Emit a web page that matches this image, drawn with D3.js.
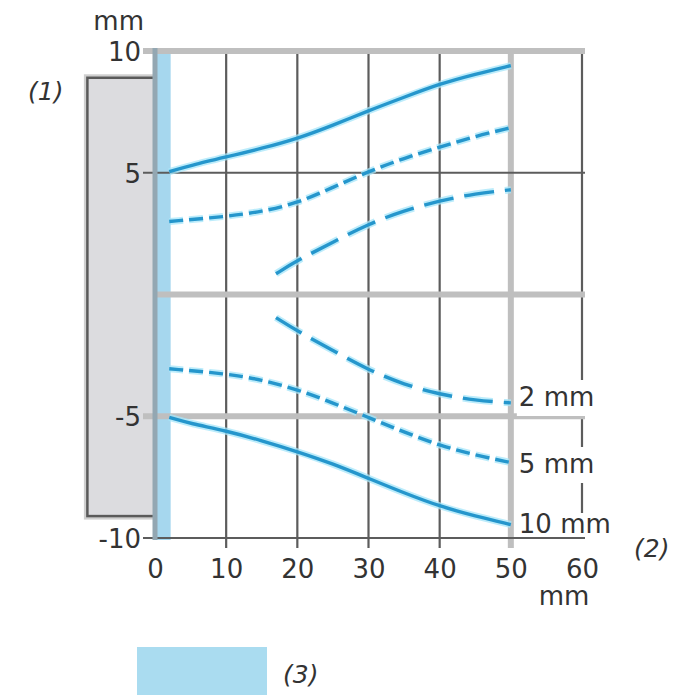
<!DOCTYPE html>
<html>
  <head>
    <meta charset="utf-8">
    <title>Detection zones</title>
    <script src="https://d3js.org/d3.v7.min.js"></script>
    <style>
    body { margin: 0; background: #fff; }
    text { font-family: "DejaVu Sans", sans-serif; fill: #333; }
    .grid-dark { stroke: #5c5c5c; stroke-width: 2.2px; }
    .grid-light { stroke: #bfbfbf; stroke-width: 6px; }
    .halo { fill: none; stroke: #a6e6fa; stroke-width: 7px; opacity: 0.75; }
    .core { fill: none; stroke: #2596cc; stroke-width: 3.4px; }
    </style>
  </head>
  <body>
    <script>
      // ====================================
      // data (mm)
      // ====================================
      const xTicks = [0, 10, 20, 30, 40, 50, 60];
      const yTicks = [10, 5, -5, -10];
      const xHeavy = [0, 50];          // light grey wide lines
      const yHeavy = [10, 0, -5];

      const labels = ["2 mm", "5 mm", "10 mm"];

      // curve for 10 mm target
      const x10 = [2, 5, 10, 15, 20, 25, 30, 35, 40, 45, 50];
      const up10 = [5.05, 5.3, 5.65, 6.0, 6.4, 6.95, 7.55, 8.1, 8.65, 9.05, 9.4];
      const lo10 = [-5.05, -5.3, -5.6, -6.0, -6.45, -6.95, -7.55, -8.15, -8.7, -9.1, -9.45];

      // curve for 5 mm target
      const x5 = [2, 10, 15, 20, 25, 30, 35, 40, 45, 50];
      const up5 = [3.0, 3.2, 3.4, 3.75, 4.4, 5.05, 5.6, 6.05, 6.5, 6.85];
      const lo5 = [-3.05, -3.25, -3.5, -3.9, -4.45, -5.05, -5.65, -6.2, -6.6, -6.9];

      // curve for 2 mm target
      const x2 = [17, 20, 25, 30, 35, 40, 45, 50];
      const up2 = [0.85, 1.4, 2.15, 2.9, 3.45, 3.85, 4.15, 4.3];
      const lo2 = [-0.95, -1.5, -2.3, -3.1, -3.7, -4.1, -4.35, -4.45];

      // grey object (1) and blue zone (3)
      const objectBox = [-9.5, 0, -9.1, 8.9];   // x0, x1, y0, y1
      const zone = [0, 2.2];

      const svg = d3.select("body")
        .append("svg")
          .attr("width", 700)
          .attr("height", 700);

      const x = d3.scaleLinear().domain([0, 60]).range([155, 582]);
      const y = d3.scaleLinear().domain([-10, 10]).range([538, 51]);

      // grey object
      svg.append("rect")
          .attr("x", x(objectBox[0]) - 2)
          .attr("y", y(objectBox[3]) - 2)
          .attr("width", x(objectBox[1]) - x(objectBox[0]) + 2)
          .attr("height", y(objectBox[2]) - y(objectBox[3]) + 4)
          .attr("fill", "none")
          .attr("stroke", "#cfcfcf")
          .attr("stroke-width", 3);
      svg.append("rect")
          .attr("x", x(objectBox[0]))
          .attr("y", y(objectBox[3]))
          .attr("width", x(objectBox[1]) - x(objectBox[0]))
          .attr("height", y(objectBox[2]) - y(objectBox[3]))
          .attr("fill", "#dcdcdf")
          .attr("stroke", "#5a5a5a")
          .attr("stroke-width", 2.5);

      // blue zone
      svg.append("rect")
          .attr("x", x(zone[0]))
          .attr("y", y(10))
          .attr("width", x(zone[1]) - x(zone[0]))
          .attr("height", y(-10) - y(10) + 2)
          .attr("fill", "#a6d7ee");

      // vertical grid lines
      xTicks.forEach(function(v) {
        if (v === 0) return;
        svg.append("line")
          .attr("class", xHeavy.indexOf(v) >= 0 ? "grid-light" : "grid-dark")
          .attr("x1", x(v)).attr("x2", x(v))
          .attr("y1", y(10) - 3)
          .attr("y2", v === 60 ? y(-10) : y(-10) + 10);
      });

      // horizontal grid lines
      const hLines = yTicks.concat([0]);
      hLines.forEach(function(v) {
        svg.append("line")
          .attr("class", yHeavy.indexOf(v) >= 0 ? "grid-light" : "grid-dark")
          .attr("x1", v === 0 ? x(0) : x(0) - 12)
          .attr("x2", x(60) + 3)
          .attr("y1", y(v)).attr("y2", y(v));
      });

      // axis x = 0 over the zone
      svg.append("line")
          .attr("x1", x(0)).attr("x2", x(0))
          .attr("y1", y(10) - 3).attr("y2", y(-10) + 2)
          .attr("stroke", "#93a7b2")
          .attr("stroke-width", 5);

      // tick labels through d3 axes (no lines)
      const fmt = function(d) { return String(d); };   // plain hyphen minus

      const xAxis = d3.axisBottom(x)
          .tickValues(xTicks)
          .tickFormat(fmt)
          .tickSize(0)
          .tickPadding(0);
      const gx = svg.append("g")
          .attr("transform", "translate(0," + 578 + ")")
          .call(xAxis);
      gx.select(".domain").remove();
      gx.selectAll("text")
          .attr("dy", 0)
          .attr("y", 0)
          .attr("font-size", 26)
          .attr("font-family", null)
          .attr("fill", "#333");

      const yAxis = d3.axisLeft(y)
          .tickValues(yTicks)
          .tickFormat(fmt)
          .tickSize(0)
          .tickPadding(14);
      const gy = svg.append("g")
          .attr("transform", "translate(" + x(0) + ",0)")
          .call(yAxis);
      gy.select(".domain").remove();
      gy.selectAll("text")
          .attr("dy", "0.36em")
          .attr("font-size", 26)
          .attr("font-family", null)
          .attr("fill", "#333");

      // curves
      const line = d3.line()
          .x(function(d) { return x(d[0]); })
          .y(function(d) { return y(d[1]); })
          .curve(d3.curveBasis);

      const curves = [
        { xs: x2, ys: up2, dash: "30,11" },
        { xs: x2, ys: lo2, dash: "30,11" },
        { xs: x5, ys: up5, dash: "14,6" },
        { xs: x5, ys: lo5, dash: "14,6" },
        { xs: x10, ys: up10, dash: null },
        { xs: x10, ys: lo10, dash: null }
      ];

      curves.forEach(function(c) {
        const pts = c.xs.map(function(v, i) { return [v, c.ys[i]]; });
        ["halo", "core"].forEach(function(cls) {
          svg.append("path")
            .datum(pts)
            .attr("class", cls)
            .attr("stroke-dasharray", c.dash)
            .attr("d", line);
        });
      });

      // end labels on the lower curves, white behind so the 60 line breaks
      const labelBase = [406, 473, 533];
      labels.forEach(function(t, i) {
        const g = svg.append("g");
        const txt = g.append("text")
          .attr("x", x(50) + 8)
          .attr("y", labelBase[i])
          .attr("font-size", 26)
          .text(t);
        const bb = txt.node().getBBox();
        g.insert("rect", "text")
          .attr("x", bb.x - 2)
          .attr("y", i === 2 ? bb.y + 4 : bb.y - 2)
          .attr("width", bb.width + 4)
          .attr("height", i === 2 ? bb.height - 6 : bb.height + 6)
          .attr("fill", "#fff");
      });

      // redraw the -10 line under the last label
      svg.append("line")
          .attr("class", "grid-dark")
          .attr("x1", x(50)).attr("x2", x(60) + 3)
          .attr("y1", y(-10)).attr("y2", y(-10));

      // axis units and notes
      svg.append("text").attr("x", 144).attr("y", 30)
          .attr("text-anchor", "end").attr("font-size", 26).text("mm");
      svg.append("text").attr("x", x(60) - 18).attr("y", 605)
          .attr("text-anchor", "middle").attr("font-size", 26).text("mm");
      svg.append("text").attr("x", 28).attr("y", 100)
          .attr("font-size", 25).attr("font-style", "italic").text("(1)");
      svg.append("text").attr("x", 634).attr("y", 557)
          .attr("font-size", 25).attr("font-style", "italic").text("(2)");

      // legend
      svg.append("rect")
          .attr("x", 137).attr("y", 647)
          .attr("width", 130).attr("height", 48)
          .attr("fill", "#aadcf0");
      svg.append("text").attr("x", 283).attr("y", 683)
          .attr("font-size", 25).attr("font-style", "italic").text("(3)");
    </script>
  </body>
</html>
